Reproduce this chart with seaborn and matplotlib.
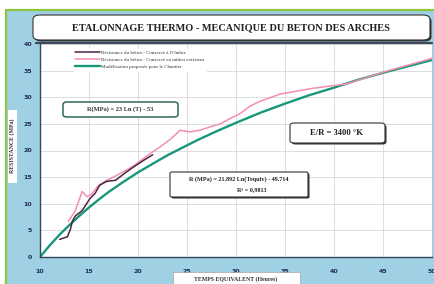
import matplotlib
matplotlib.use("Agg")
import matplotlib.pyplot as plt
import seaborn as sns
import pandas as pd
from matplotlib.patches import FancyBboxPatch, Rectangle
from matplotlib.lines import Line2D

# ---- data ----
t_ombre = [12.0, 12.8, 13.1, 13.3, 13.6, 14.3, 15.1, 15.6, 16.1, 16.8, 17.7, 18.7, 19.7, 20.7, 21.5]
r_ombre = [3.3, 3.8, 5.2, 6.7, 7.7, 8.7, 11.0, 11.9, 13.5, 14.2, 14.4, 15.8, 17.1, 18.3, 19.2]

t_ext = [12.9, 13.6, 14.3, 14.8, 15.3, 15.9, 16.8, 17.7, 18.7, 19.7, 20.7, 21.7, 22.2, 23.3, 24.3,
         25.3, 26.3, 27.3, 28.4, 29.4, 30.4, 31.4, 32.4, 34.5, 37.9, 41.3, 45.0, 50.0]
r_ext = [6.7, 8.7, 12.3, 11.3, 11.9, 13.3, 14.4, 15.2, 16.2, 17.3, 18.7, 20.0, 20.6, 22.1, 23.8,
         23.5, 23.8, 24.4, 25.0, 26.0, 26.9, 28.3, 29.2, 30.6, 31.7, 32.5, 34.7, 37.3]

t_model = [10, 10.5, 11, 11.5, 12, 12.5, 13, 14, 15, 16, 17, 18.5, 20, 21.5, 23, 24.5, 26, 28, 30,
           32.5, 35, 37.5, 40, 42.5, 45, 47.5, 50]
r_model = [0.0, 1.1, 2.2, 3.2, 4.2, 5.1, 6.0, 7.7, 9.3, 10.8, 12.2, 14.1, 15.9, 17.5, 19.1, 20.5,
           21.9, 23.6, 25.2, 27.1, 28.8, 30.4, 31.8, 33.3, 34.6, 35.8, 37.0]

x_ticks = [10, 15, 20, 25, 30, 35, 40, 45, 50]
y_ticks = [0, 5, 10, 15, 20, 25, 30, 35, 40]

lab_ombre = "Résistance du béton - Conservé à l'Ombre"
lab_ext = "Résistance du béton - Conservé en milieu extérieur"
lab_model = "Modélisation proposée pour le Chantier"

title = "ETALONNAGE THERMO - MECANIQUE DU BETON DES ARCHES"
xlabel = "TEMPS EQUIVALENT (Heures)"
ylabel = "RESISTANCE (MPa)"
eq_model = "R(MPa) = 23 Ln (T) - 53"
eq_fit1 = "R (MPa) = 21.892 Ln(Tequiv) - 49.714"
eq_fit2 = "R² = 0,9813"
er_text = "E/R = 3400 °K"

# ---- figure ----
sns.set_theme(style="white")
plt.rcParams['font.family'] = ['DejaVu Sans']

W, H = 435, 284
fig = plt.figure(figsize=(W / 100, H / 100), dpi=100)
fig.patch.set_facecolor("white")

def fx(x):
    return x / W

def fy(y):
    return 1 - y / H

BLUE = "#a0d0e3"
NAVY = "#1f2f55"

# blue background with green frame
fig.add_artist(Rectangle((fx(6), 0), 1 - fx(6), fy(10), transform=fig.transFigure,
                         fc=BLUE, ec="none", zorder=0))
fig.add_artist(Line2D([fx(6), 1], [fy(10), fy(10)], transform=fig.transFigure,
                      color="#8cc63f", lw=1.6, zorder=1))
fig.add_artist(Line2D([fx(6), fx(6)], [0, fy(10)], transform=fig.transFigure,
                      color="#8cc63f", lw=1.6, zorder=1))

def box(x0, y0, x1, y1, ec="#333333", shadow=True, pad=3, lw=0.8, z=5):
    if shadow:
        fig.add_artist(FancyBboxPatch((fx(x0) + 1.5 / W, fy(y1) - 1.5 / H),
                                      fx(x1) - fx(x0), fy(y0) - fy(y1),
                                      boxstyle=f"round,pad=0,rounding_size={pad / W}",
                                      transform=fig.transFigure, fc="#333333", ec="none",
                                      zorder=z))
    fig.add_artist(FancyBboxPatch((fx(x0), fy(y1)), fx(x1) - fx(x0), fy(y0) - fy(y1),
                                  boxstyle=f"round,pad=0,rounding_size={pad / W}",
                                  transform=fig.transFigure, fc="white", ec=ec, lw=lw,
                                  zorder=z + 0.1))

# title box
box(33, 15, 430, 40, pad=7)
fig.text(fx(231), fy(27.5), title, ha="center", va="center", fontsize=7.4,
         fontweight="bold", family="Liberation Serif", color="#222222", zorder=10)

# axes
ax = fig.add_axes([fx(40), fy(257), fx(432) - fx(40), fy(44) - fy(257)])
ax.set_facecolor("white")
fig.add_artist(Line2D([fx(36), fx(432)], [fy(43), fy(43)], transform=fig.transFigure,
                      color="#3a4a5a", lw=1.6, zorder=3))

df_o = pd.DataFrame({"T": t_ombre, "R": r_ombre})
df_e = pd.DataFrame({"T": t_ext, "R": r_ext})
df_m = pd.DataFrame({"T": t_model, "R": r_model})

sns.lineplot(data=df_o, x="T", y="R", ax=ax, color="#4a2444", lw=1.1, sort=False,
             label=lab_ombre, zorder=4)
sns.lineplot(data=df_e, x="T", y="R", ax=ax, color="#f28fb0", lw=1.1, sort=False,
             label=lab_ext, zorder=3)
sns.lineplot(data=df_m, x="T", y="R", ax=ax, color="#17977a", lw=1.7, sort=False,
             label=lab_model, zorder=2)

ax.set_xlim(10, 50)
ax.set_ylim(0, 40)
ax.set_xticks(x_ticks)
ax.set_yticks(y_ticks)
ax.set_xticklabels([str(v) for v in x_ticks])
ax.set_yticklabels([str(v) for v in y_ticks])
ax.grid(True, color="#d8d8d8", lw=0.6)
ax.set_axisbelow(True)
for s in ["top", "right"]:
    ax.spines[s].set_visible(False)
for s in ["left", "bottom"]:
    ax.spines[s].set_color("#2e4a5e")
    ax.spines[s].set_linewidth(1.0)
ax.tick_params(axis="both", which="major", labelsize=4.5, colors=NAVY, length=2.5,
               width=0.8, pad=3, direction="out")
ax.tick_params(axis="x", pad=6)
for lbl in ax.get_xticklabels() + ax.get_yticklabels():
    lbl.set_fontweight("bold")
ax.set_xlabel("")
ax.set_ylabel("")

leg = ax.legend(loc="upper left", bbox_to_anchor=(0.08, 0.99), fontsize=3.6, frameon=True,
                framealpha=1, edgecolor="white", facecolor="white", handlelength=5,
                handletextpad=0.2, labelspacing=0.55, borderpad=0.3)
for t in leg.get_texts():
    t.set_color("#333333")
    t.set_family("Liberation Serif")

# y label box
fig.add_artist(Rectangle((fx(8), fy(183)), fx(17) - fx(8), fy(110) - fy(183),
                         transform=fig.transFigure, fc="white", ec="none", zorder=5))
fig.text(fx(12.5), fy(146), ylabel, rotation=90, ha="center", va="center", fontsize=4.2,
         fontweight="bold", color="#333333", family="Liberation Serif", zorder=6)

# x label box
fig.add_artist(Rectangle((fx(173), 0), fx(300) - fx(173), fy(272),
                         transform=fig.transFigure, fc="white", ec="#999999", lw=0.4, zorder=5))
fig.text(fx(236), fy(279), xlabel, ha="center", va="center", fontsize=4.2,
         fontweight="bold", color="#333333", family="Liberation Serif", zorder=6)

# model equation box
box(63, 102, 178, 117, ec="#2f6b4f", shadow=False, pad=4, lw=1.1)
fig.text(fx(120), fy(109.5), eq_model, ha="center", va="center", fontsize=4.6,
         fontweight="bold", color="#333333", family="Liberation Serif", zorder=10)

# E/R box
box(290, 123, 385, 143, pad=4)
fig.text(fx(337), fy(133), er_text, ha="center", va="center", fontsize=6.2,
         fontweight="bold", color="#222222", family="Liberation Serif", zorder=10)

# fit box
box(170, 172, 308, 197, pad=2)
fig.text(fx(239), fy(179), eq_fit1, ha="center", va="center", fontsize=4.4,
         fontweight="bold", color="#222222", family="Liberation Serif", zorder=10)
fig.text(fx(252), fy(190), eq_fit2, ha="center", va="center", fontsize=4.4,
         fontweight="bold", color="#222222", family="Liberation Serif", zorder=10)

fig.savefig("out.png", dpi=100, facecolor=fig.get_facecolor())
